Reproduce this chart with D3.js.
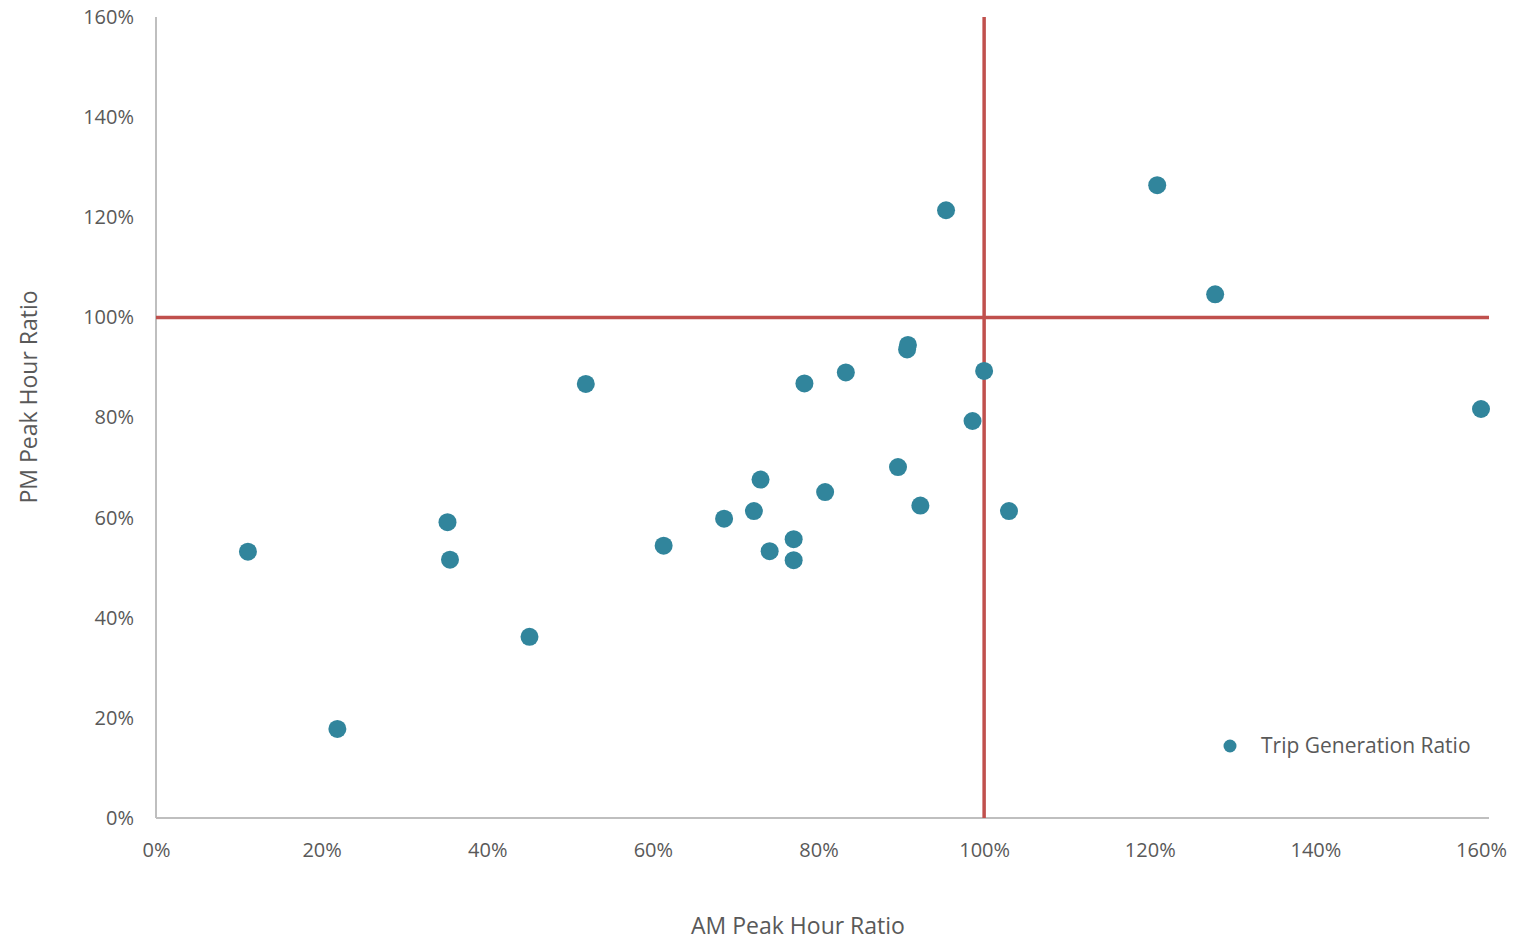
<!DOCTYPE html>
<html>
<head>
<meta charset="utf-8">
<script src="https://cdn.jsdelivr.net/npm/d3@7"></script>
<style>
    body { margin: 0; background: #fff; }
    text { font-family: "Open Sans", sans-serif; fill: #595959; }
</style>
</head>
<body>
<div class="chart"></div>
<script>
// AM / PM peak hour ratios (%)
const amRatio = [11.1, 21.9, 35.2, 35.5, 45.1, 51.9, 61.3, 68.6, 72.2, 73.0, 74.1, 77.0, 77.0, 78.3,
    80.8, 83.3, 89.6, 90.7, 90.8, 92.3, 95.4, 98.6, 100.0, 103.0, 120.9, 127.9, 160.0];
const pmRatio = [53.2, 17.8, 59.1, 51.6, 36.2, 86.7, 54.4, 59.8, 61.3, 67.6, 53.3, 55.7, 51.5, 86.8,
    65.1, 89.0, 70.1, 93.6, 94.5, 62.4, 121.4, 79.3, 89.3, 61.3, 126.4, 104.6, 81.7];
const xTicks = [0, 20, 40, 60, 80, 100, 120, 140, 160];
const yTicks = [0, 20, 40, 60, 80, 100, 120, 140, 160];
const threshold = 100;
const seriesName = "Trip Generation Ratio";

const width = 1514;
const height = 940;
const plot = { left: 156, right: 1481, top: 17, bottom: 818, edge: 1489 };

const svg = d3.select(".chart")
    .append("svg")
    .attr("width", width)
    .attr("height", height);

const x = d3.scaleLinear().domain([0, 160]).range([plot.left, plot.right]);
const y = d3.scaleLinear().domain([0, 160]).range([plot.bottom, plot.top]);

// axes
const xAxis = svg.append("g")
    .attr("transform", `translate(0,${plot.bottom})`)
    .call(d3.axisBottom(x).tickValues(xTicks).tickSize(0).tickPadding(25)
        .tickFormat((d) => d + "%"));
xAxis.select(".domain").remove();
xAxis.selectAll("text").attr("font-size", "20px").attr("fill", "#595959")
    .style("font-family", '"Open Sans", sans-serif');

const yAxis = svg.append("g")
    .attr("transform", `translate(${plot.left},0)`)
    .call(d3.axisLeft(y).tickValues(yTicks).tickSize(0).tickPadding(22)
        .tickFormat((d) => d + "%"));
yAxis.select(".domain").remove();
yAxis.selectAll("text").attr("font-size", "20px").attr("fill", "#595959")
    .style("font-family", '"Open Sans", sans-serif');

svg.append("line")
    .attr("x1", plot.left).attr("x2", plot.edge)
    .attr("y1", plot.bottom).attr("y2", plot.bottom)
    .attr("stroke", "#bfbfbf").attr("stroke-width", 2);
svg.append("line")
    .attr("x1", plot.left).attr("x2", plot.left)
    .attr("y1", plot.top).attr("y2", plot.bottom)
    .attr("stroke", "#bfbfbf").attr("stroke-width", 2);

// 100% reference lines
svg.append("line")
    .attr("x1", plot.left).attr("x2", plot.edge)
    .attr("y1", y(threshold)).attr("y2", y(threshold))
    .attr("stroke", "#c0504d").attr("stroke-width", 3.5);
svg.append("line")
    .attr("x1", x(threshold)).attr("x2", x(threshold))
    .attr("y1", plot.top).attr("y2", plot.bottom)
    .attr("stroke", "#c0504d").attr("stroke-width", 3.5);

// points
const points = amRatio.map((d, i) => ({ am: d, pm: pmRatio[i] }));
svg.append("g")
    .selectAll("circle")
    .data(points)
    .join("circle")
    .attr("cx", (d) => x(d.am))
    .attr("cy", (d) => y(d.pm))
    .attr("r", 9)
    .attr("fill", "#31859c");

// axis titles
svg.append("text")
    .attr("x", 798).attr("y", 925)
    .attr("text-anchor", "middle").attr("dominant-baseline", "central")
    .attr("font-size", "23px")
    .text("AM Peak Hour Ratio");
svg.append("text")
    .attr("transform", "translate(28,397) rotate(-90)")
    .attr("text-anchor", "middle").attr("dominant-baseline", "central")
    .attr("font-size", "23px")
    .text("PM Peak Hour Ratio");

// legend
svg.append("circle")
    .attr("cx", 1230).attr("cy", 746).attr("r", 6.5)
    .attr("fill", "#31859c");
svg.append("text")
    .attr("x", 1261).attr("y", 745)
    .attr("dominant-baseline", "central")
    .attr("font-size", "21px")
    .text(seriesName);
</script>
</body>
</html>
